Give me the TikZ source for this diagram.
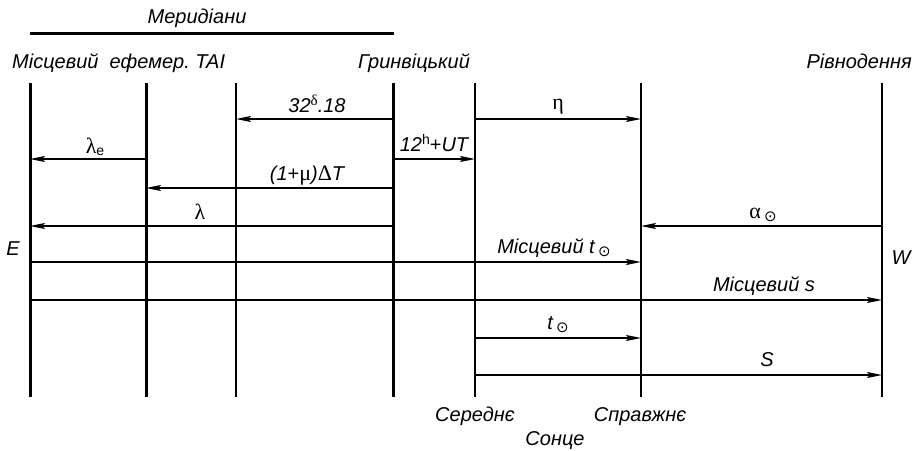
\documentclass[tikz,border=0pt]{standalone}
\usepackage{fontspec}
\setmainfont{Liberation Sans}
\newfontfamily\grk{Liberation Serif}
\newfontfamily\symf{DejaVu Sans}
\usetikzlibrary{arrows.meta}
\newcommand{\sunsym}{\,\raisebox{-3pt}{\symf\upshape\fontsize{15}{15}\selectfont ⊙}}
\newcommand{\gk}[1]{{\grk\upshape\fontsize{22}{22}\selectfont #1}}
\newcommand{\gks}[1]{{\grk\upshape\fontsize{15}{15}\selectfont #1}}
\newcommand{\sups}[1]{\raisebox{6.5pt}{\fontsize{14}{14}\selectfont #1}}
\newcommand{\subs}[1]{\raisebox{-2pt}{\fontsize{14}{14}\selectfont #1}}
\tikzset{
  merthick/.style={line width=3pt},
  merthin/.style={line width=2pt},
  arr/.style={line width=1.3pt, -{Stealth[length=15pt,width=6pt,inset=3pt]}},
  lbl/.style={anchor=base, inner sep=0pt, font=\fontsize{20}{22}\selectfont\itshape},
}
\begin{document}
\begin{tikzpicture}[x=1pt,y=-1pt]
\useasboundingbox (0,0) rectangle (915,450);
% meridian coordinates
\coordinate (Ltop) at (30,83);  \coordinate (Lbot) at (30,397);
\coordinate (Etop) at (146,83); \coordinate (Ebot) at (146,397);
\coordinate (Ttop) at (236,83); \coordinate (Tbot) at (236,397);
\coordinate (Gtop) at (393,83); \coordinate (Gbot) at (393,397);
\coordinate (Mtop) at (475,83); \coordinate (Mbot) at (475,397);
\coordinate (Stop) at (641,83); \coordinate (Sbot) at (641,397);
\coordinate (Qtop) at (882,83); \coordinate (Qbot) at (882,397);
% rows
\coordinate (r1) at (0,119);
\coordinate (r2) at (0,159);
\coordinate (r3) at (0,188);
\coordinate (r4) at (0,226);
\coordinate (r5) at (0,262);
\coordinate (r6) at (0,300);
\coordinate (r7) at (0,338);
\coordinate (r8) at (0,375);
% top bar
\coordinate (barL) at (30,33); \coordinate (barR) at (394,33);
\draw[merthick] (barL) -- (barR);
% meridians
\draw[merthick] (Ltop) -- (Lbot);
\draw[merthick] (Etop) -- (Ebot);
\draw[merthin]  (Ttop) -- (Tbot);
\draw[merthick] (Gtop) -- (Gbot);
\draw[merthin]  (Mtop) -- (Mbot);
\draw[merthin]  (Stop) -- (Sbot);
\draw[merthin]  (Qtop) -- (Qbot);
% arrows
\draw[arr] (Gtop |- r1) -- (Ttop |- r1);
\draw[arr] (Mtop |- r1) -- (Stop |- r1);
\draw[arr] (Etop |- r2) -- (Ltop |- r2);
\draw[arr] (Gtop |- r2) -- (Mtop |- r2);
\draw[arr] (Gtop |- r3) -- (Etop |- r3);
\draw[arr] (Gtop |- r4) -- (Ltop |- r4);
\draw[arr] (Qtop |- r4) -- (Stop |- r4);
\draw[arr, line width=2pt] (Ltop |- r5) -- (Stop |- r5);
\draw[arr] (Ltop |- r6) -- (Qtop |- r6);
\draw[arr] (Mtop |- r7) -- (Stop |- r7);
\draw[arr] (Mtop |- r8) -- (Qtop |- r8);
% titles
\node[lbl] (tMer) at (197,23) {Меридіани};
\node[lbl, anchor=base west] (tLoc) at (12,68) {Місцевий\ \ ефемер.\ TAI};
\node[lbl] (tGr) at (414,68) {Гринвіцький};
\node[lbl, anchor=base east] (tEq) at (912,68) {Рівнодення};
% arrow labels
\node[lbl] (l1) at (317,112) {32\sups{\gks{δ}}.18};
\node[lbl] (l2) at (558,109) {\gk{η}};
\node[lbl] (l3) at (95,153) {\gk{λ}\subs{\upshape e}};
\node[lbl] (l4) at (434,151) {12\sups{\upshape h}{\upshape +}UT};
\node[lbl] (l5) at (307,180) {(1{\upshape +}\gk{μ})\gk{Δ}T};
\node[lbl] (l6) at (200,219) {\gk{λ}};
\node[lbl] (l7) at (763,218) {\gk{α}\sunsym};
\node[lbl] (l8) at (554,253) {Місцевий t\sunsym};
\node[lbl] (l9) at (764,291) {Місцевий s};
\node[lbl] (l10) at (558,329) {t\sunsym};
\node[lbl] (l11) at (767,366) {S};
% side letters
\node[lbl] (lE) at (13,255) {E};
\node[lbl] (lW) at (901,264) {W};
% bottom
\node[lbl] (bMean) at (475,421) {Середнє};
\node[lbl] (bTrue) at (640,421) {Справжнє};
\node[lbl] (bSun) at (555,445) {Сонце};
\end{tikzpicture}
\end{document}
